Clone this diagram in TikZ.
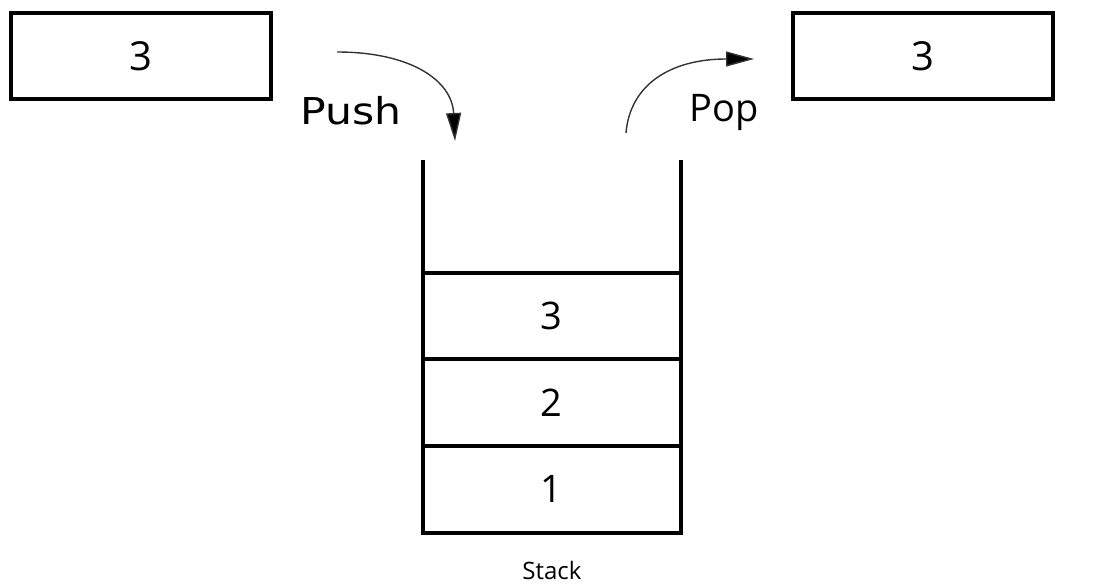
\documentclass[tikz,border=0pt]{standalone}
\usepackage{fontspec}
\setmainfont{Open Sans}
\newfontfamily\pushfont{DejaVu Sans}
\usetikzlibrary{arrows.meta}
\begin{document}
\begin{tikzpicture}[x=1pt,y=-1pt,
  valbox/.style={draw,line width=4pt,minimum width=260pt,minimum height=86pt,inner sep=0pt,outer sep=0pt,font=\fontsize{40}{44}\selectfont},
  cell/.style={draw,line width=4pt,minimum width=258.5pt,minimum height=86.7pt,inner sep=0pt,outer sep=0pt,font=\fontsize{38}{42}\selectfont},
  wall/.style={line width=4pt},
  movearrow/.style={line width=1.4pt,draw=black!80,-{Triangle[length=28pt,width=15pt,fill=black]}},
  oplabel/.style={inner sep=0pt,anchor=base}
]
\useasboundingbox (0,0) rectangle (1100,585);
\node[valbox] (inbox) at (141,56) {3};
\node[valbox] (outbox) at (923,56) {3};
\node[cell] (c3) at (551.75,316) {3};
\node[cell] (c2) at (551.75,402.7) {2};
\node[cell] (c1) at (551.75,489.4) {1};
\coordinate (wl) at (422.5,160);
\coordinate (wr) at (681,160);
\draw[wall] (c3.north west) -- (wl);
\draw[wall] (c3.north east) -- (wr);
\node[font=\fontsize{24}{28}\selectfont] (stk) at (552,570) {Stack};
\coordinate (pushs) at (337,52);
\coordinate (pushe) at (455,141);
\draw[movearrow] (pushs) .. controls (410,52) and (452,80) .. (pushe);
\node[oplabel,font=\pushfont\fontsize{37}{40}\selectfont,xscale=1.15] (push) at (351,125) {Push};
\coordinate (pops) at (626,133);
\coordinate (pope) at (754,59);
\draw[movearrow] (pops) .. controls (630,85) and (670,59) .. (pope);
\node[oplabel,font=\fontsize{38}{42}\selectfont] (pop) at (724.5,122) {Pop};
\end{tikzpicture}
\end{document}
